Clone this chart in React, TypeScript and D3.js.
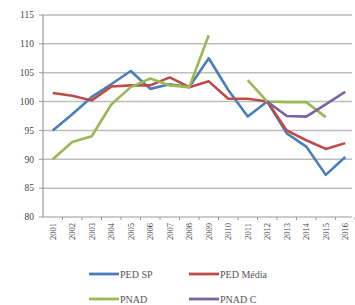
import React, { useRef, useEffect } from 'react';
import * as d3 from 'd3';

const years = ['2001', '2002', '2003', '2004', '2005', '2006', '2007', '2008', '2009', '2010', '2011', '2012', '2013', '2014', '2015', '2016'];
const pedSP = [95, 97.8, 100.8, 103, 105.3, 102.2, 103, 102.5, 107.5, 102, 97.4, 100, 94.5, 92.2, 87.3, 90.4];
const pedMedia = [101.5, 101, 100.2, 102.6, 102.8, 102.8, 104.2, 102.5, 103.5, 100.5, 100.5, 100, 95, 93.3, 91.8, 92.8];
const pnad = [90, 93, 94, 99.5, 102.5, 104, 102.8, 102.5, 111.5, null, 103.7, 100, 99.9, 99.9, 97.3, null];
const pnadC = [null, null, null, null, null, null, null, null, null, null, null, 100, 97.5, 97.4, 99.5, 101.7];
const yTicks = [80, 85, 90, 95, 100, 105, 110, 115];

const series = [
  { name: 'PED SP', values: pedSP, color: '#4a7ebb' },
  { name: 'PED Média', values: pedMedia, color: '#be4b48' },
  { name: 'PNAD', values: pnad, color: '#98b954' },
  { name: 'PNAD C', values: pnadC, color: '#7d60a0' },
];

function App() {
  const chartRef = useRef<SVGSVGElement>(null);

  useEffect(() => {
    const svg = d3.select(chartRef.current);
    svg.selectAll('*').remove();

    const font = 'Liberation Serif, serif';

    const x = d3.scaleBand().domain(years).range([43, 355]);
    const y = d3.scaleLinear().domain([80, 115]).range([217, 15]);
    const cx = (d: string) => (x(d) as number) + x.bandwidth() / 2;

    // gridlines
    svg.append('g')
      .selectAll('line')
      .data(yTicks.slice(1))
      .enter().append('line')
      .attr('x1', 43)
      .attr('x2', 352)
      .attr('y1', d => y(d))
      .attr('y2', d => y(d))
      .attr('stroke', '#bdbdbd')
      .attr('stroke-width', 1.5);

    // y axis
    svg.append('line')
      .attr('x1', 43).attr('x2', 43)
      .attr('y1', y(115)).attr('y2', y(80))
      .attr('stroke', '#9a9a9a').attr('stroke-width', 1.2);
    svg.append('g')
      .selectAll('line')
      .data(yTicks)
      .enter().append('line')
      .attr('x1', 39).attr('x2', 43)
      .attr('y1', d => y(d)).attr('y2', d => y(d))
      .attr('stroke', '#9a9a9a');
    svg.append('g')
      .selectAll('text')
      .data(yTicks)
      .enter().append('text')
      .attr('x', 34)
      .attr('y', d => y(d))
      .attr('dy', '0.35em')
      .attr('text-anchor', 'end')
      .attr('font-family', font)
      .attr('font-size', 9.5)
      .attr('fill', '#444')
      .text(d => d);

    // x axis
    svg.append('line')
      .attr('x1', 43).attr('x2', 352)
      .attr('y1', y(80)).attr('y2', y(80))
      .attr('stroke', '#9a9a9a').attr('stroke-width', 1.2);
    svg.append('g')
      .selectAll('line')
      .data(years)
      .enter().append('line')
      .attr('x1', d => (x(d) as number) + x.bandwidth())
      .attr('x2', d => (x(d) as number) + x.bandwidth())
      .attr('y1', y(80)).attr('y2', y(80) + 3)
      .attr('stroke', '#9a9a9a');
    svg.append('g')
      .selectAll('text')
      .data(years)
      .enter().append('text')
      .attr('transform', d => `translate(${cx(d)},${y(80) + 6}) rotate(-90)`)
      .attr('dy', '0.35em')
      .attr('text-anchor', 'end')
      .attr('font-family', font)
      .attr('font-size', 8.5)
      .attr('fill', '#444')
      .text(d => d);

    // lines
    const line = d3.line<number | null>()
      .defined(d => d !== null)
      .x((_, i) => cx(years[i]))
      .y(d => y(d as number));

    svg.append('g')
      .selectAll('path')
      .data(series)
      .enter().append('path')
      .attr('d', d => line(d.values))
      .attr('fill', 'none')
      .attr('stroke', d => d.color)
      .attr('stroke-width', 2.6)
      .attr('stroke-linejoin', 'round');

    // legend
    const legendPos = [
      { lx: 89, ly: 274 },
      { lx: 189, ly: 274 },
      { lx: 89, ly: 299 },
      { lx: 189, ly: 299 },
    ];
    const legend = svg.append('g')
      .selectAll('g')
      .data(series)
      .enter().append('g')
      .attr('transform', (_, i) => `translate(${legendPos[i].lx},${legendPos[i].ly})`);
    legend.append('line')
      .attr('x1', 0).attr('x2', 30)
      .attr('stroke', d => d.color)
      .attr('stroke-width', 2.8);
    legend.append('text')
      .attr('x', 31)
      .attr('dy', '0.35em')
      .attr('font-family', font)
      .attr('font-size', 10)
      .attr('fill', '#555')
      .text(d => d.name);
  }, []);

  return (
    <svg
      ref={chartRef}
      width={355}
      height={305}
      style={{ position: 'absolute', left: 0, top: 0, background: '#fff' }}
    ></svg>
  );
}

export default App;
